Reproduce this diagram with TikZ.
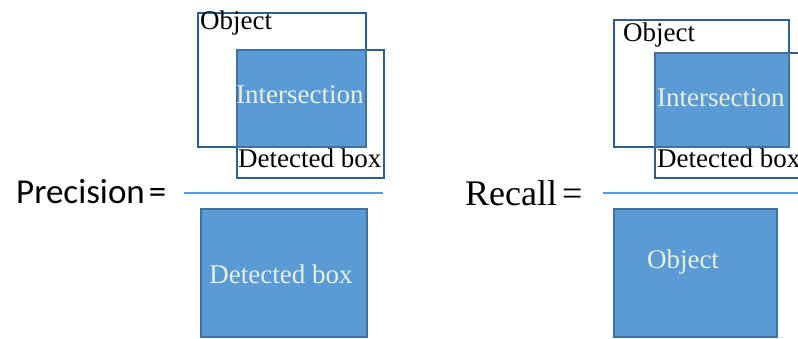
\documentclass[tikz,border=0pt]{standalone}
\usepackage{fontspec}
\setmainfont{Liberation Serif}
\newfontfamily\calib{Carlito}
\definecolor{boxfill}{HTML}{5B9BD5}
\definecolor{boxedge}{HTML}{41719C}
\definecolor{outedge}{HTML}{2E5D8E}
\definecolor{paletext}{HTML}{E6F0D8}
\begin{document}
\begin{tikzpicture}[x=1pt,y=-1pt,
  outbox/.style={draw=outedge,line width=2.3pt,inner sep=0pt,anchor=north west},
  fillbox/.style={draw=boxedge,fill=boxfill,line width=1.6pt,inner sep=0pt,anchor=north west},
  lbl/.style={inner sep=0pt,anchor=base west,font=\fontsize{27}{30}\selectfont},
  palelbl/.style={lbl,text=paletext},
  fracline/.style={draw=boxfill,line width=2.2pt}]
\clip (0,0) rectangle (798,338);
% ---- left: precision ----
\node[outbox,minimum width=168pt,minimum height=134pt] (objL) at (197,12) {};
\node[outbox,minimum width=147pt,minimum height=128pt] (detL) at (236,49) {};
\node[fillbox,minimum width=129pt,minimum height=97pt] (intL) at (236,49) {};
\node[lbl] (objLt) at (200,29) {Object};
\node[palelbl] (intLt) at (236,103) {Intersection};
\node[lbl] (detLt) at (238,167) {Detected box};
\coordinate (lineLa) at (184,193);
\coordinate (lineLb) at (383,193);
\draw[fracline] (lineLa) -- (lineLb);
\node[inner sep=0pt,anchor=base west,font=\calib\fontsize{35}{38}\selectfont] (prec) at (16,203) {Precision\kern4pt=};
\node[fillbox,minimum width=166pt,minimum height=128pt] (detB) at (200,208) {};
\node[palelbl,anchor=center] (detBt) at (281,274) {Detected box};
% ---- right: recall ----
\node[outbox,minimum width=175pt,minimum height=127pt] (objR) at (613,19) {};
\node[outbox,minimum width=170pt,minimum height=125pt] (detR) at (654,52) {};
\node[fillbox,minimum width=134pt,minimum height=94pt] (intR) at (654,52) {};
\node[lbl] (objRt) at (623,41) {Object};
\node[palelbl] (intRt) at (657,106) {Intersection};
\node[lbl] (detRt) at (657,167) {Detected box};
\coordinate (lineRa) at (603,193);
\coordinate (lineRb) at (800,193);
\draw[fracline] (lineRa) -- (lineRb);
\node[inner sep=0pt,anchor=base west,font=\fontsize{36}{40}\selectfont] (rec) at (465,205) {Recall\kern5pt=};
\node[fillbox,minimum width=163pt,minimum height=128pt] (objB) at (613,208) {};
\node[palelbl,anchor=center] (objBt) at (683,262) {Object};
\end{tikzpicture}
\end{document}
